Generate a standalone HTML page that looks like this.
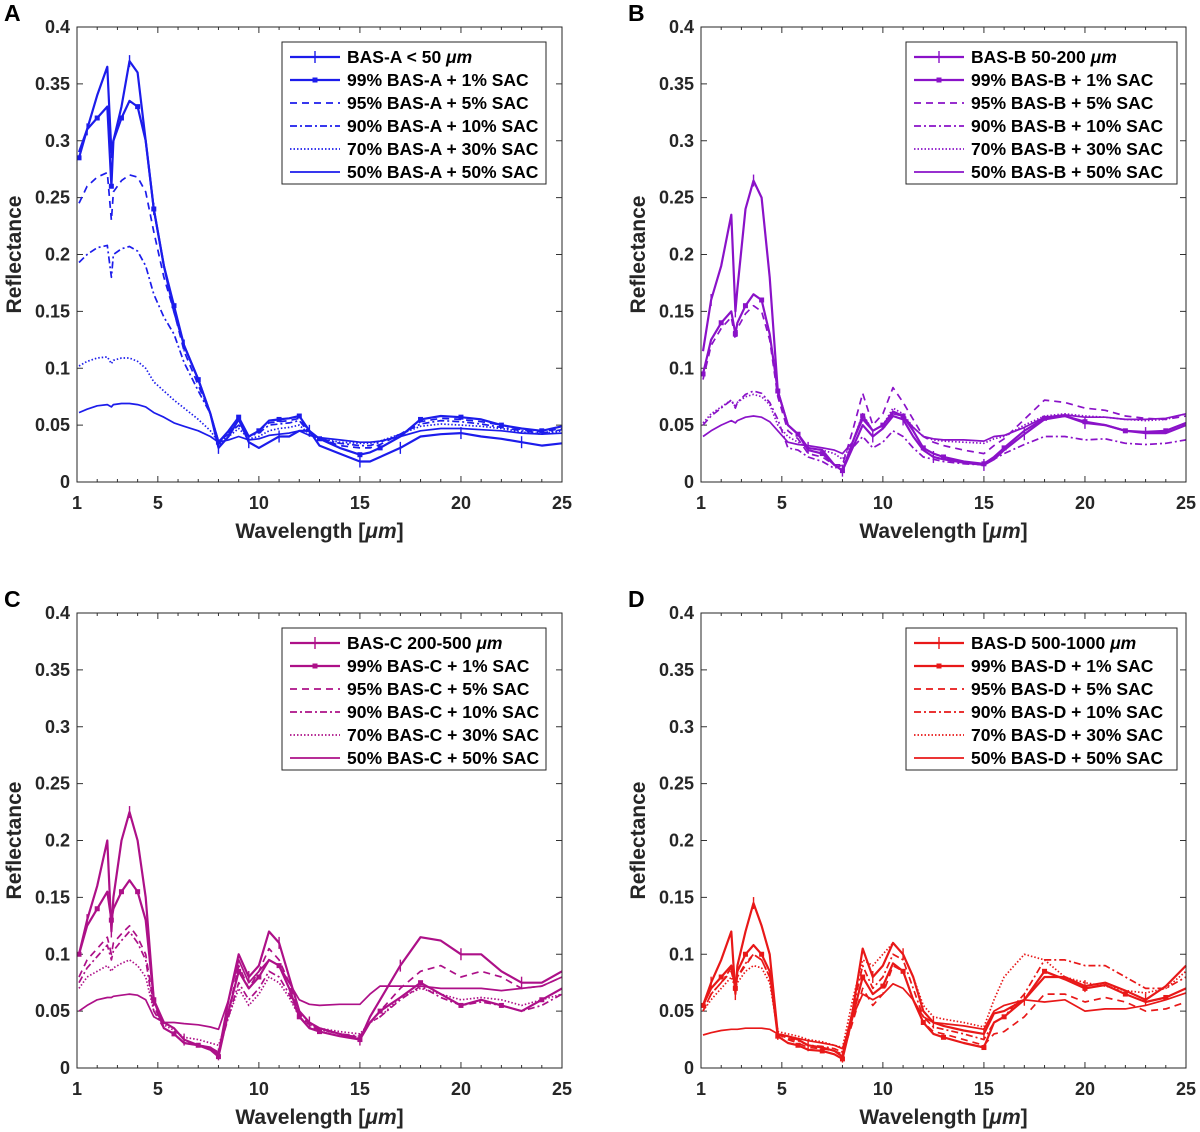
<!DOCTYPE html>
<html><head><meta charset="utf-8"><style>
body{margin:0;background:#fff;}
svg{display:block;font-family:"Liberation Sans",Arial,sans-serif;}
</style></head><body>
<svg id="fig" width="1200" height="1132" viewBox="0 0 1200 1132" xmlns="http://www.w3.org/2000/svg"></svg>
<script>
const wavelengths=[1.1,1.5,2,2.5,2.7,2.8,3.2,3.6,4,4.4,4.8,5.3,5.8,6.3,7,7.6,8,8.5,9,9.5,10,10.5,11,11.5,12,12.5,13,14,15,15.5,16,17,18,19,20,21,22,23,24,25];
const xTicks=[1,5,10,15,20,25];
const yTicks=[0,0.05,0.1,0.15,0.2,0.25,0.3,0.35,0.4];
const yTickLabels=["0","0.05","0.1","0.15","0.2","0.25","0.3","0.35","0.4"];
const panelLetters=["A","B","C","D"];
const panelColors=["#1c1ceb","#8a12c8","#ad1088","#e81818"];
const legendA=["BAS-A < 50 ","99% BAS-A + 1% SAC","95% BAS-A + 5% SAC","90% BAS-A + 10% SAC","70% BAS-A + 30% SAC","50% BAS-A + 50% SAC"];
const legendB=["BAS-B 50-200 ","99% BAS-B + 1% SAC","95% BAS-B + 5% SAC","90% BAS-B + 10% SAC","70% BAS-B + 30% SAC","50% BAS-B + 50% SAC"];
const legendC=["BAS-C 200-500 ","99% BAS-C + 1% SAC","95% BAS-C + 5% SAC","90% BAS-C + 10% SAC","70% BAS-C + 30% SAC","50% BAS-C + 50% SAC"];
const legendD=["BAS-D 500-1000 ","99% BAS-D + 1% SAC","95% BAS-D + 5% SAC","90% BAS-D + 10% SAC","70% BAS-D + 30% SAC","50% BAS-D + 50% SAC"];
const A0=[0.29,0.31,0.34,0.365,0.29,0.30,0.33,0.37,0.36,0.30,0.24,0.19,0.15,0.12,0.09,0.06,0.03,0.04,0.055,0.035,0.03,0.035,0.04,0.04,0.045,0.045,0.032,0.025,0.018,0.018,0.022,0.03,0.04,0.042,0.043,0.04,0.038,0.035,0.032,0.034];
const A1=[0.285,0.31,0.32,0.33,0.26,0.30,0.32,0.335,0.33,0.30,0.24,0.19,0.155,0.12,0.09,0.06,0.035,0.045,0.057,0.04,0.045,0.054,0.055,0.056,0.058,0.045,0.038,0.03,0.024,0.026,0.03,0.04,0.055,0.058,0.057,0.055,0.05,0.047,0.045,0.049];
const A2=[0.245,0.26,0.268,0.272,0.23,0.255,0.265,0.27,0.268,0.255,0.22,0.18,0.15,0.115,0.085,0.06,0.035,0.043,0.055,0.04,0.045,0.052,0.053,0.054,0.056,0.044,0.038,0.032,0.03,0.03,0.033,0.042,0.053,0.056,0.055,0.053,0.05,0.046,0.044,0.047];
const A3=[0.193,0.2,0.206,0.208,0.18,0.2,0.205,0.207,0.203,0.19,0.165,0.145,0.13,0.105,0.08,0.06,0.036,0.042,0.05,0.04,0.043,0.05,0.051,0.052,0.054,0.043,0.038,0.034,0.032,0.032,0.035,0.042,0.051,0.054,0.053,0.051,0.048,0.045,0.043,0.046];
const A4=[0.102,0.106,0.109,0.11,0.104,0.107,0.109,0.109,0.106,0.1,0.088,0.08,0.072,0.065,0.055,0.045,0.035,0.04,0.047,0.038,0.04,0.045,0.047,0.048,0.05,0.042,0.038,0.035,0.034,0.034,0.036,0.042,0.049,0.051,0.05,0.049,0.047,0.044,0.042,0.045];
const A5=[0.061,0.064,0.067,0.068,0.066,0.068,0.069,0.069,0.068,0.066,0.061,0.057,0.052,0.049,0.045,0.04,0.035,0.037,0.04,0.037,0.038,0.041,0.042,0.043,0.045,0.041,0.039,0.037,0.035,0.035,0.036,0.04,0.045,0.047,0.047,0.046,0.045,0.043,0.042,0.043];
const B0=[0.115,0.16,0.19,0.235,0.15,0.17,0.24,0.265,0.25,0.18,0.08,0.05,0.042,0.03,0.028,0.015,0.01,0.03,0.05,0.04,0.047,0.058,0.055,0.04,0.028,0.022,0.02,0.017,0.015,0.02,0.028,0.042,0.055,0.058,0.052,0.05,0.045,0.043,0.043,0.05];
const B1=[0.095,0.125,0.14,0.15,0.13,0.14,0.155,0.165,0.16,0.13,0.08,0.05,0.042,0.028,0.025,0.015,0.01,0.035,0.058,0.045,0.05,0.062,0.058,0.045,0.03,0.025,0.022,0.018,0.016,0.022,0.03,0.045,0.056,0.058,0.053,0.05,0.045,0.044,0.045,0.052];
const B2=[0.09,0.12,0.135,0.145,0.125,0.135,0.148,0.155,0.15,0.125,0.075,0.045,0.038,0.025,0.022,0.015,0.015,0.045,0.078,0.05,0.06,0.083,0.07,0.055,0.04,0.035,0.032,0.028,0.025,0.032,0.038,0.055,0.072,0.07,0.065,0.063,0.058,0.056,0.055,0.058];
const B3=[0.05,0.058,0.065,0.072,0.065,0.07,0.077,0.08,0.078,0.07,0.055,0.03,0.028,0.022,0.018,0.012,0.015,0.03,0.04,0.03,0.035,0.045,0.04,0.03,0.022,0.02,0.018,0.016,0.015,0.02,0.025,0.033,0.04,0.04,0.037,0.038,0.034,0.033,0.034,0.037];
const B4=[0.052,0.06,0.066,0.072,0.066,0.07,0.075,0.077,0.075,0.068,0.05,0.04,0.035,0.03,0.028,0.025,0.02,0.035,0.06,0.045,0.05,0.065,0.06,0.048,0.04,0.037,0.036,0.035,0.034,0.038,0.04,0.05,0.058,0.06,0.058,0.057,0.055,0.054,0.055,0.06];
const B5=[0.04,0.045,0.05,0.054,0.052,0.054,0.057,0.058,0.057,0.053,0.045,0.035,0.033,0.032,0.03,0.028,0.025,0.035,0.055,0.045,0.05,0.06,0.058,0.048,0.04,0.038,0.037,0.037,0.036,0.04,0.041,0.048,0.057,0.059,0.057,0.057,0.055,0.055,0.056,0.06];
const C0=[0.1,0.13,0.16,0.2,0.12,0.15,0.2,0.225,0.2,0.15,0.06,0.04,0.035,0.025,0.02,0.018,0.012,0.06,0.1,0.08,0.09,0.12,0.11,0.08,0.05,0.04,0.035,0.03,0.025,0.045,0.06,0.09,0.115,0.112,0.1,0.1,0.085,0.075,0.075,0.085];
const C1=[0.1,0.125,0.14,0.155,0.13,0.14,0.155,0.165,0.155,0.13,0.06,0.035,0.03,0.022,0.02,0.016,0.01,0.05,0.085,0.07,0.08,0.095,0.09,0.07,0.045,0.035,0.032,0.028,0.025,0.04,0.05,0.062,0.075,0.065,0.055,0.06,0.055,0.05,0.06,0.07];
const C2=[0.08,0.095,0.105,0.115,0.1,0.11,0.118,0.125,0.115,0.1,0.055,0.035,0.03,0.022,0.02,0.018,0.012,0.05,0.09,0.07,0.085,0.105,0.095,0.075,0.048,0.038,0.034,0.03,0.027,0.04,0.05,0.07,0.085,0.09,0.08,0.085,0.08,0.07,0.072,0.08];
const C3=[0.075,0.088,0.098,0.108,0.095,0.103,0.112,0.12,0.11,0.095,0.05,0.035,0.03,0.022,0.02,0.018,0.014,0.045,0.075,0.06,0.07,0.085,0.08,0.065,0.045,0.036,0.034,0.03,0.028,0.04,0.045,0.06,0.072,0.062,0.055,0.058,0.055,0.05,0.055,0.065];
const C4=[0.07,0.08,0.085,0.09,0.085,0.088,0.092,0.095,0.09,0.08,0.05,0.038,0.033,0.027,0.025,0.022,0.02,0.045,0.07,0.055,0.065,0.08,0.075,0.062,0.045,0.038,0.035,0.032,0.03,0.04,0.045,0.062,0.07,0.065,0.06,0.062,0.06,0.055,0.06,0.065];
const C5=[0.05,0.055,0.06,0.062,0.062,0.063,0.064,0.065,0.064,0.06,0.045,0.04,0.04,0.039,0.038,0.036,0.034,0.06,0.095,0.075,0.085,0.095,0.09,0.075,0.06,0.056,0.055,0.056,0.056,0.065,0.072,0.072,0.072,0.07,0.07,0.07,0.068,0.07,0.072,0.08];
const D0=[0.055,0.075,0.095,0.12,0.065,0.09,0.12,0.145,0.125,0.1,0.03,0.028,0.025,0.02,0.018,0.015,0.01,0.05,0.105,0.08,0.09,0.11,0.1,0.08,0.05,0.04,0.037,0.033,0.03,0.048,0.05,0.06,0.08,0.08,0.072,0.075,0.068,0.06,0.072,0.09];
const D1=[0.055,0.07,0.08,0.09,0.07,0.085,0.1,0.108,0.1,0.085,0.028,0.022,0.02,0.016,0.015,0.012,0.008,0.045,0.08,0.065,0.072,0.092,0.085,0.06,0.04,0.03,0.027,0.022,0.018,0.04,0.045,0.06,0.085,0.078,0.07,0.073,0.065,0.058,0.062,0.07];
const D2=[0.05,0.065,0.075,0.085,0.07,0.08,0.09,0.1,0.095,0.08,0.03,0.025,0.022,0.018,0.017,0.015,0.012,0.04,0.07,0.055,0.065,0.09,0.085,0.06,0.04,0.032,0.03,0.025,0.02,0.03,0.032,0.045,0.065,0.065,0.058,0.062,0.058,0.05,0.052,0.058];
const D3=[0.05,0.065,0.075,0.088,0.07,0.08,0.092,0.1,0.095,0.08,0.03,0.026,0.024,0.02,0.019,0.017,0.014,0.05,0.09,0.07,0.08,0.1,0.095,0.07,0.045,0.036,0.034,0.03,0.025,0.04,0.045,0.065,0.095,0.095,0.09,0.09,0.08,0.07,0.07,0.08];
const D4=[0.05,0.06,0.07,0.08,0.07,0.075,0.085,0.09,0.088,0.075,0.032,0.03,0.028,0.025,0.023,0.02,0.018,0.06,0.095,0.09,0.1,0.11,0.1,0.08,0.055,0.045,0.043,0.04,0.036,0.06,0.08,0.1,0.095,0.08,0.075,0.072,0.068,0.066,0.07,0.085];
const D5=[0.029,0.031,0.033,0.034,0.034,0.034,0.035,0.035,0.035,0.034,0.03,0.028,0.026,0.024,0.022,0.02,0.017,0.045,0.065,0.06,0.065,0.074,0.07,0.06,0.045,0.04,0.039,0.037,0.034,0.05,0.055,0.06,0.058,0.06,0.05,0.052,0.052,0.055,0.06,0.066];

const panelSeries=[[A0,A1,A2,A3,A4,A5],[B0,B1,B2,B3,B4,B5],[C0,C1,C2,C3,C4,C5],[D0,D1,D2,D3,D4,D5]];
const panelLegends=[legendA,legendB,legendC,legendD];
const dashes=["","","7 5","7 3 2 3","1.5 2",""];
const NS="http://www.w3.org/2000/svg";
const svg=document.getElementById('fig');
function mk(tag,attrs,parent){const e=document.createElementNS(NS,tag);for(const k in attrs)e.setAttribute(k,attrs[k]);(parent||svg).appendChild(e);return e;}
const boxes=[{l:77,r:562,t:27,b:482},{l:701,r:1186,t:27,b:482},{l:77,r:562,t:613,b:1068},{l:701,r:1186,t:613,b:1068}];

boxes.forEach((bx,p)=>{
  const col=panelColors[p];
  const g=mk('g',{});
  
  
  const xs=v=>bx.l+(v-1)/24*(bx.r-bx.l);
  const ys=v=>bx.b-v/0.4*(bx.b-bx.t);
  const letter=mk('text',{x:bx.l-73,y:bx.t-6,'font-size':23,'font-weight':'bold',fill:'#000'},g);
  letter.textContent=panelLetters[p];
  
  
  for(let v=1;v<=25;v++){const major=xTicks.includes(v);const L=major?6:3;
    mk('line',{x1:xs(v),x2:xs(v),y1:bx.b,y2:bx.b-L,stroke:'#333','stroke-width':1},g);
    mk('line',{x1:xs(v),x2:xs(v),y1:bx.t,y2:bx.t+L,stroke:'#333','stroke-width':1},g);}
  yTicks.forEach((v,i)=>{
    mk('line',{x1:bx.l,x2:bx.l+6,y1:ys(v),y2:ys(v),stroke:'#333'},g);
    mk('line',{x1:bx.r,x2:bx.r-6,y1:ys(v),y2:ys(v),stroke:'#333'},g);
    const t=mk('text',{x:bx.l-7,y:ys(v)+6,'font-size':18,'font-weight':'bold','text-anchor':'end',fill:'#262626'},g);
    t.textContent=yTickLabels[i];
    
    
  });
  xTicks.forEach(v=>{
    const t=mk('text',{x:xs(v),y:bx.b+27,'font-size':18,'font-weight':'bold','text-anchor':'middle',fill:'#262626'},g);
    t.textContent=String(v);
    
    
  });
  const xt=mk('text',{x:(bx.l+bx.r)/2,y:bx.b+56,'font-size':21,'font-weight':'bold','text-anchor':'middle',fill:'#262626'},g);
  xt.innerHTML='Wavelength [<tspan font-style="italic">\u03bcm</tspan>]';
  
  
  const yt=mk('text',{x:0,y:0,'font-size':21,'font-weight':'bold','text-anchor':'middle',fill:'#262626',transform:`translate(${bx.l-56},${(bx.t+bx.b)/2}) rotate(-90)`},g);
  yt.textContent='Reflectance';
  
  
  panelSeries[p].forEach((arr,s)=>{
    const d=arr.map((v,i)=>(i?'L':'M')+xs(wavelengths[i]).toFixed(1)+','+ys(v).toFixed(1)).join(' ');
    const path=mk('path',{d:d,fill:'none',stroke:col,'stroke-width':s<2?2.2:1.7,'stroke-dasharray':dashes[s],'stroke-linejoin':'round'},g);
    
    
    if(s===0){arr.forEach((v,i)=>{if(i%3===1){const x=xs(wavelengths[i]),y=ys(v);
      mk('line',{x1:x,x2:x,y1:y-6,y2:y+6,stroke:col,'stroke-width':1.4},g);}});}
    if(s===1){arr.forEach((v,i)=>{if(i%2===0){const x=xs(wavelengths[i]),y=ys(v);
      mk('rect',{x:x-2.5,y:y-2.5,width:5,height:5,fill:col},g);}});}
  });
  const fr=mk('rect',{x:bx.l,y:bx.t,width:bx.r-bx.l,height:bx.b-bx.t,fill:'none',stroke:'#262626','stroke-width':1},g);
  
  
  const lx=bx.l+205, ly=bx.t+15, lw=(p%2===0)?264:271;
  const lg=mk('g',{},g);
  
  
  mk('rect',{x:lx,y:ly,width:lw,height:142,fill:'#fff',stroke:'#262626','stroke-width':1},lg);
  panelLegends[p].forEach((lab,s)=>{
    const yy=ly+15+s*23;
    mk('line',{x1:lx+8,x2:lx+58,y1:yy,y2:yy,stroke:col,'stroke-width':s<2?2.2:1.7,'stroke-dasharray':dashes[s]},lg);
    if(s===0)mk('line',{x1:lx+33,x2:lx+33,y1:yy-6,y2:yy+6,stroke:col,'stroke-width':1.4},lg);
    if(s===1)mk('rect',{x:lx+30.5,y:yy-2.5,width:5,height:5,fill:col},lg);
    const t=mk('text',{x:lx+65,y:yy+6,'font-size':17.5,'font-weight':'bold',fill:'#000'},lg);
    if(s===0)t.innerHTML=lab+'<tspan font-style="italic">\u03bcm</tspan>';
    else t.textContent=lab;
    
    
  });
});
</script>
</body></html>
